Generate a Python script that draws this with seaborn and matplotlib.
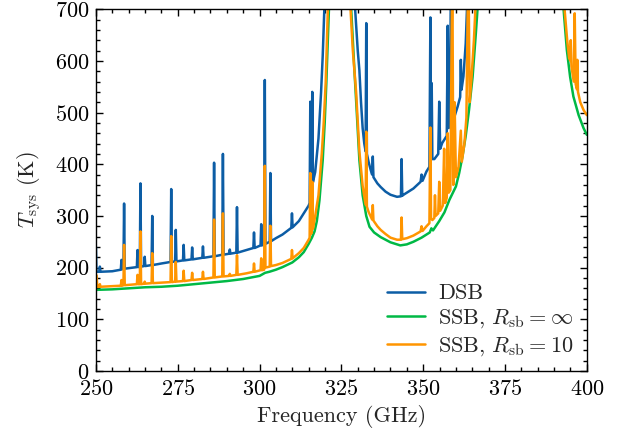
import matplotlib
matplotlib.use("Agg")
import matplotlib.pyplot as plt
import pandas as pd
import seaborn as sns
from matplotlib.ticker import MultipleLocator

# ---- DSB ----
dsb_freq = [250.0, 250.15, 251.0, 251.2, 251.4, 255.0, 257.6, 257.8, 258.0, 258.4, 258.6, 258.8,
            260.0, 262.5, 262.7, 262.9, 263.4, 263.6, 263.8, 264.7, 264.9, 265.1, 267.0, 267.2,
            267.4, 270.0, 272.8, 273.0, 273.2, 274.2, 274.4, 274.6, 276.6, 276.8, 277.0, 279.2,
            279.4, 279.6, 282.5, 282.7, 282.9, 285.9, 286.1, 286.3, 288.6, 288.8, 289.0, 290.7,
            290.9, 291.1, 292.9, 293.1, 293.3, 296.0, 298.1, 298.3, 298.5, 300.3, 300.5, 300.7,
            301.4, 301.6, 301.8, 303.1, 303.3, 303.5, 305.0, 307.0, 309.7, 309.9, 310.1, 312.0,
            313.5, 315.0, 315.3, 315.5, 315.7, 315.9, 316.1, 316.3, 317.0, 318.0, 318.8, 319.3,
            319.7, 319.9, 320.2, 328.8, 329.2, 330.0, 330.5, 331.0, 331.5, 332.0, 332.4, 332.6,
            332.8, 333.3, 334.0, 334.4, 334.6, 334.8, 336.0, 337.0, 338.5, 340.0, 342.0, 343.2,
            343.4, 343.6, 344.0, 345.0, 347.0, 349.2, 349.5, 349.8, 351.0, 351.9, 352.2, 352.4,
            352.6, 352.8, 353.4, 354.6, 354.9, 355.2, 355.8, 357.2, 357.5, 357.8, 358.2, 358.5,
            358.8, 359.5, 360.5, 361.3, 361.5, 361.7, 362.3, 363.0, 363.5, 363.8, 400.0]
dsb_tsys = [240, 192, 192, 202, 192, 193, 196, 215, 197, 197, 324, 198,
            199, 201, 234, 201, 202, 363, 202, 203, 221, 203, 205, 300,
            205, 208, 211, 352, 211, 212, 273, 212, 214, 244, 214, 216,
            239, 216, 219, 241, 219, 222, 403, 222, 225, 420, 225, 227,
            235, 227, 229, 317, 229, 234, 238, 268, 238, 243, 284, 243,
            245, 563, 246, 250, 383, 251, 257, 264, 277, 305, 278, 290,
            305, 320, 325, 521, 340, 345, 540, 365, 385, 450, 540, 610,
            680, 720, 800, 800, 700, 620, 582, 520, 470, 440, 425, 673,
            420, 405, 388, 380, 415, 375, 363, 356, 347, 341, 337, 338,
            410, 339, 341, 345, 353, 366, 380, 368, 386, 395, 684, 420,
            557, 410, 410, 420, 521, 430, 441, 455, 668, 470, 480, 800,
            490, 491, 511, 530, 602, 544, 570, 634, 720, 800, 800]

# ---- SSB, R_sb = infinity ----
ssb_inf_freq = [250.0, 255.0, 260.0, 265.0, 270.0, 275.0, 280.0, 285.0, 290.0, 295.0, 300.0,
                301.7, 303.0, 305.0, 307.0, 310.0, 312.0, 313.5, 315.0, 316.0, 316.8, 317.5,
                318.3, 319.3, 319.9, 320.4, 320.8, 321.2, 321.5, 327.7, 328.0, 328.5, 329.0,
                329.5, 330.5, 331.5, 332.6, 333.6, 335.0, 337.0, 340.0, 343.0, 345.0, 347.0,
                349.5, 351.0, 352.0, 352.5, 353.0, 354.9, 356.5, 358.0, 360.0, 361.0, 362.0,
                363.0, 364.0, 365.1, 366.1, 366.6, 366.9, 392.6, 392.9, 393.9, 394.9, 395.9,
                397.5, 399.0, 400.0]
ssb_inf_tsys = [157, 158, 160, 162, 163, 165, 168, 171, 174, 178, 184,
                190, 192, 196, 201, 210, 220, 230, 246, 258, 270, 290,
                330, 408, 480, 557, 630, 700, 800, 800, 700, 640, 580,
                524, 408, 340, 300, 279, 268, 259, 249, 243, 245, 250,
                258, 264, 268, 276, 272, 290, 307, 331, 357, 383, 415,
                455, 505, 569, 654, 700, 800, 800, 700, 621, 569, 531,
                495, 470, 457]

# ---- SSB, R_sb = 10 ----
ssb10_freq = [250.0, 250.2, 250.4, 251.0, 251.2, 251.4, 257.6, 257.8, 258.0, 258.4, 258.6, 258.8,
              262.5, 262.7, 262.9, 263.4, 263.6, 263.8, 264.7, 264.9, 265.1, 267.0, 267.2, 267.4,
              272.8, 273.0, 273.2, 274.2, 274.4, 274.6, 276.6, 276.8, 277.0, 279.2, 279.4, 279.6,
              282.5, 282.7, 282.9, 285.9, 286.1, 286.3, 288.6, 288.8, 289.0, 290.7, 290.9, 291.1,
              292.9, 293.1, 293.3, 296.0, 298.1, 298.3, 298.5, 300.3, 300.5, 300.7, 301.4, 301.6,
              301.8, 303.1, 303.3, 303.5, 305.0, 307.0, 309.7, 309.9, 310.1, 312.0, 313.5, 315.0,
              315.3, 315.5, 315.7, 315.9, 316.1, 316.3, 317.0, 318.0, 319.0, 319.6, 320.0, 320.2,
              320.5, 320.9, 321.2, 327.5, 327.8, 328.5, 329.5, 330.5, 331.5, 332.4, 332.6, 332.8,
              333.3, 334.4, 334.6, 334.8, 336.0, 337.0, 338.5, 340.0, 342.0, 343.2, 343.4, 343.6,
              345.0, 347.0, 349.2, 349.5, 349.8, 351.0, 351.9, 352.2, 352.4, 352.8, 353.4, 353.6,
              353.8, 354.6, 354.9, 355.2, 356.0, 356.4, 356.7, 357.2, 357.5, 357.8, 358.3, 358.6,
              358.9, 359.2, 359.6, 360.0, 360.8, 361.5, 361.8, 362.6, 363.2, 363.8, 364.2, 364.8,
              365.5, 366.1, 366.3, 392.8, 393.2, 394.0, 394.6, 395.0, 395.1, 395.3, 396.0, 396.3,
              396.6, 397.0, 397.1, 397.3, 398.0, 399.0, 400.0]
ssb10_tsys = [185, 185, 163, 163, 168, 163, 165, 176, 165, 166, 244, 166,
              168, 186, 168, 168, 270, 168, 169, 173, 169, 170, 228, 170,
              172, 261, 172, 173, 211, 173, 174, 194, 174, 176, 190, 176,
              178, 192, 178, 181, 293, 181, 183, 305, 183, 184, 188, 184,
              186, 224, 186, 189, 192, 208, 192, 195, 218, 195, 196, 397,
              200, 202, 281, 203, 205, 209, 217, 234, 218, 228, 238, 254,
              258, 383, 265, 268, 366, 275, 300, 340, 420, 480, 530, 557,
              620, 700, 800, 800, 700, 620, 540, 425, 358, 322, 463, 318,
              308, 293, 321, 291, 280, 273, 265, 258, 254, 254, 297, 255,
              257, 262, 270, 280, 271, 280, 286, 471, 295, 292, 296, 340,
              300, 305, 366, 310, 320, 430, 325, 335, 460, 345, 350, 560,
              800, 360, 520, 375, 395, 465, 405, 440, 490, 800, 520, 570,
              640, 720, 800, 800, 700, 640, 605, 600, 640, 590, 560, 692,
              555, 545, 602, 540, 520, 505, 495]

series_names = ["DSB", r"SSB, $R_{\rm sb}=\infty$", r"SSB, $R_{\rm sb}=10$"]
series_colors = ["#0C5DA5", "#00B945", "#FF9500"]

df = pd.concat([
    pd.DataFrame({"freq": dsb_freq, "tsys": dsb_tsys, "series": series_names[0]}),
    pd.DataFrame({"freq": ssb_inf_freq, "tsys": ssb_inf_tsys, "series": series_names[1]}),
    pd.DataFrame({"freq": ssb10_freq, "tsys": ssb10_tsys, "series": series_names[2]}),
], ignore_index=True)

FS = 16
sns.set_theme(style="ticks")
plt.rcParams.update({
    "font.family": "serif",
    "font.serif": ["cmr10"],
    "mathtext.fontset": "cm",
    "axes.formatter.use_mathtext": True,
    "font.size": FS,
    "axes.linewidth": 1.0,
    "xtick.direction": "in",
    "ytick.direction": "in",
    "xtick.top": True,
    "ytick.right": True,
    "xtick.major.size": 5,
    "ytick.major.size": 5,
    "xtick.minor.size": 2.7,
    "ytick.minor.size": 2.7,
    "xtick.major.width": 1.0,
    "ytick.major.width": 1.0,
    "xtick.minor.width": 1.0,
    "ytick.minor.width": 1.0,
    "xtick.labelsize": FS,
    "ytick.labelsize": FS,
    "axes.labelsize": FS,
    "legend.fontsize": FS,
    "axes.edgecolor": "black",
    "xtick.color": "black",
    "ytick.color": "black",
})

fig = plt.figure(figsize=(6.19, 4.37), dpi=100)
ax = fig.add_axes([0.155, 0.151, 0.793, 0.828])

sns.lineplot(data=df, x="freq", y="tsys", hue="series", hue_order=series_names,
             palette=series_colors, estimator=None, sort=False, linewidth=1.8, ax=ax)

ax.set_xlim(250, 400)
ax.set_ylim(0, 700)
ax.xaxis.set_major_locator(MultipleLocator(25))
ax.xaxis.set_minor_locator(MultipleLocator(5))
ax.yaxis.set_major_locator(MultipleLocator(100))
ax.yaxis.set_minor_locator(MultipleLocator(20))
ax.tick_params(which="both", top=True, right=True, direction="in")
ax.tick_params(axis="x", pad=6)
ax.tick_params(axis="y", pad=5)
ax.set_xlabel("Frequency (GHz)", labelpad=4)
ax.set_ylabel(r"$T_{\rm sys}$ (K)", labelpad=8)

leg = ax.legend(frameon=False, loc="lower right", handlelength=1.7,
                handletextpad=0.6, labelspacing=0.2, borderpad=0.3,
                borderaxespad=0.3)

fig.savefig("out.png", dpi=100)
